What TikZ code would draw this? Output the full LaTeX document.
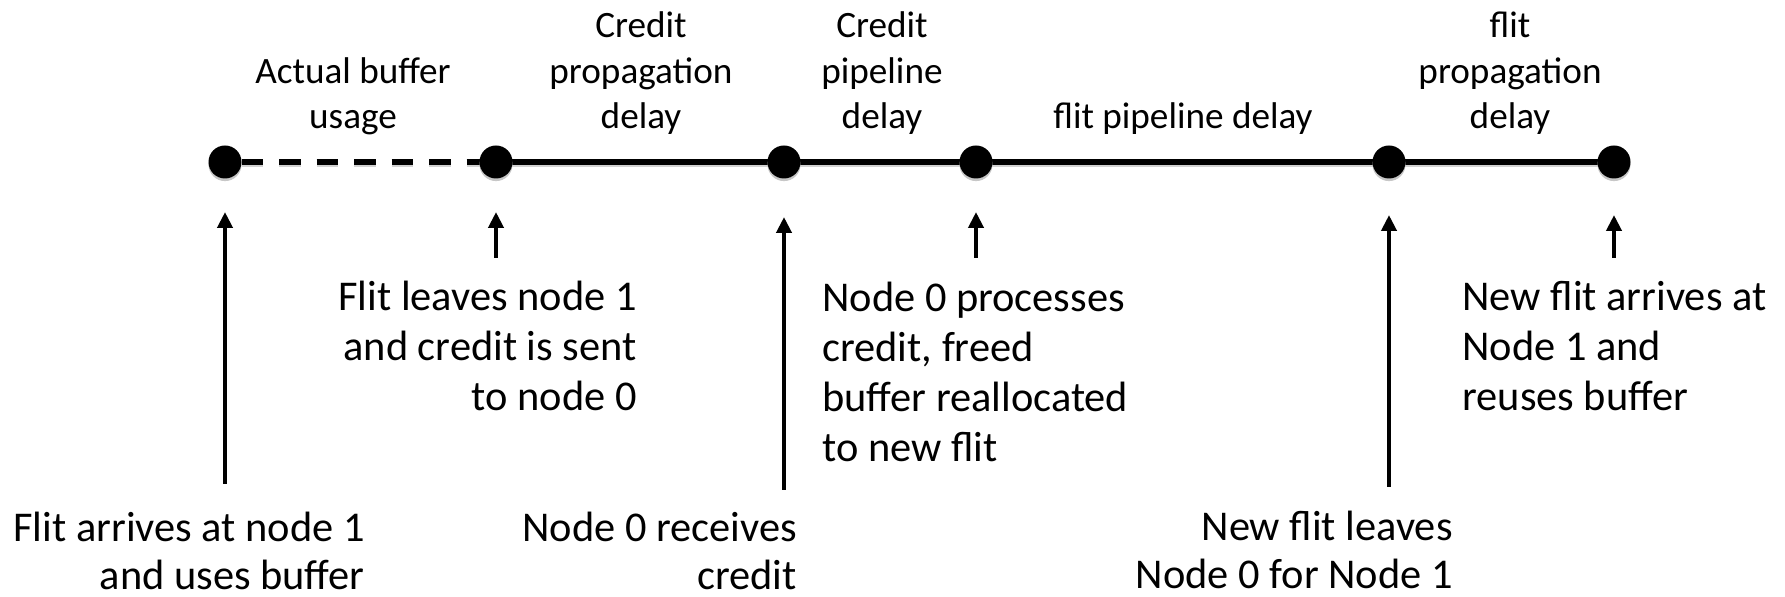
\documentclass[tikz,border=0pt]{standalone}
\usepackage{fontspec}
\setmainfont{Carlito}
\usetikzlibrary{arrows.meta}
\begin{document}
\begin{tikzpicture}[x=0.5pt,y=-0.5pt,
  dot/.style={circle,fill=black,inner sep=0pt,minimum size=16.5pt,
    preaction={fill=black!22,transform canvas={yshift=-1.3pt}}},
  track/.style={line width=2.6pt,
    preaction={draw=black!18,line width=2.6pt,transform canvas={yshift=-1.2pt}}},
  gap/.style={line width=2.6pt,dash pattern=on 10.75pt off 8pt,
    preaction={draw=black!18,line width=2.6pt,dash pattern=on 10.75pt off 8pt,
      transform canvas={yshift=-1.2pt}}},
  marker/.style={line width=2.3pt,-{Triangle[width=7.5pt,length=8pt]}},
  lbl/.style={inner sep=0pt,font=\fontsize{18.6pt}{22.75pt}\selectfont},
  lower/.style={inner sep=0pt,font=\fontsize{21.2pt}{25pt}\selectfont},
  lowest/.style={inner sep=0pt,font=\fontsize{21.2pt}{24.3pt}\selectfont}]
\useasboundingbox[fill=white] (0,0) rectangle (1785,597);

% events on the time line
\coordinate (p1) at (225,162);
\coordinate (p2) at (496,162);
\coordinate (p3) at (784,162);
\coordinate (p4) at (976,162);
\coordinate (p5) at (1389,162);
\coordinate (p6) at (1614,162);

% dashed stretch starts at the rim of the first dot
\path (p1) ++(8.25pt,0) coordinate (g1) (p2) ++(-8.25pt,0) coordinate (g2);
\draw[gap] (g1) -- (g2);
\draw[track] (p2) -- (p3) -- (p4) -- (p5) -- (p6);
\foreach \i in {1,...,6} \node[dot] (d\i) at (p\i) {};

% interval labels above the line (anchored at the last line's baseline)
\node[lbl,align=center,anchor=base] (u1) at (353,129) {Actual buffer\\usage};
\node[lbl,align=center,anchor=base] (u2) at (641,129) {Credit\\propagation\\delay};
\node[lbl,align=center,anchor=base] (u3) at (882,129) {Credit\\pipeline\\delay};
\node[lbl,align=center,anchor=base] (u4) at (1183,129) {flit pipeline delay};
\node[lbl,align=center,anchor=base] (u5) at (1510,129) {flit\\propagation\\delay};

% arrow feet and tips
\coordinate (f1) at (225,484); \coordinate (t1) at (225,212);
\coordinate (f2) at (496,258); \coordinate (t2) at (496,212);
\coordinate (f3) at (784,490); \coordinate (t3) at (784,217);
\coordinate (f4) at (976,258); \coordinate (t4) at (976,212);
\coordinate (f5) at (1389,487); \coordinate (t5) at (1389,215);
\coordinate (f6) at (1614,258); \coordinate (t6) at (1614,215);
\foreach \i in {1,...,6} \draw[marker] (f\i) -- (t\i);

% event descriptions below the line
\node[lower,align=right,anchor=base east] (e2) at (637,411) {Flit leaves node 1\\and credit is sent\\to node 0};
\node[lower,align=left,anchor=base west] (e4) at (822,462) {Node 0 processes\\credit, freed\\buffer reallocated\\to new flit};
\node[lower,align=left,anchor=base west] (e6) at (1462,411) {New flit arrives at\\Node 1 and\\reuses buffer};
\node[lowest,align=right,anchor=base east] (e1) at (365,590) {Flit arrives at node 1\\and uses buffer};
\node[lowest,align=right,anchor=base east] (e3) at (797,590) {Node 0 receives\\credit};
\node[lowest,align=right,anchor=base east] (e5) at (1453,589) {New flit leaves\\Node 0 for Node 1};
\end{tikzpicture}
\end{document}
